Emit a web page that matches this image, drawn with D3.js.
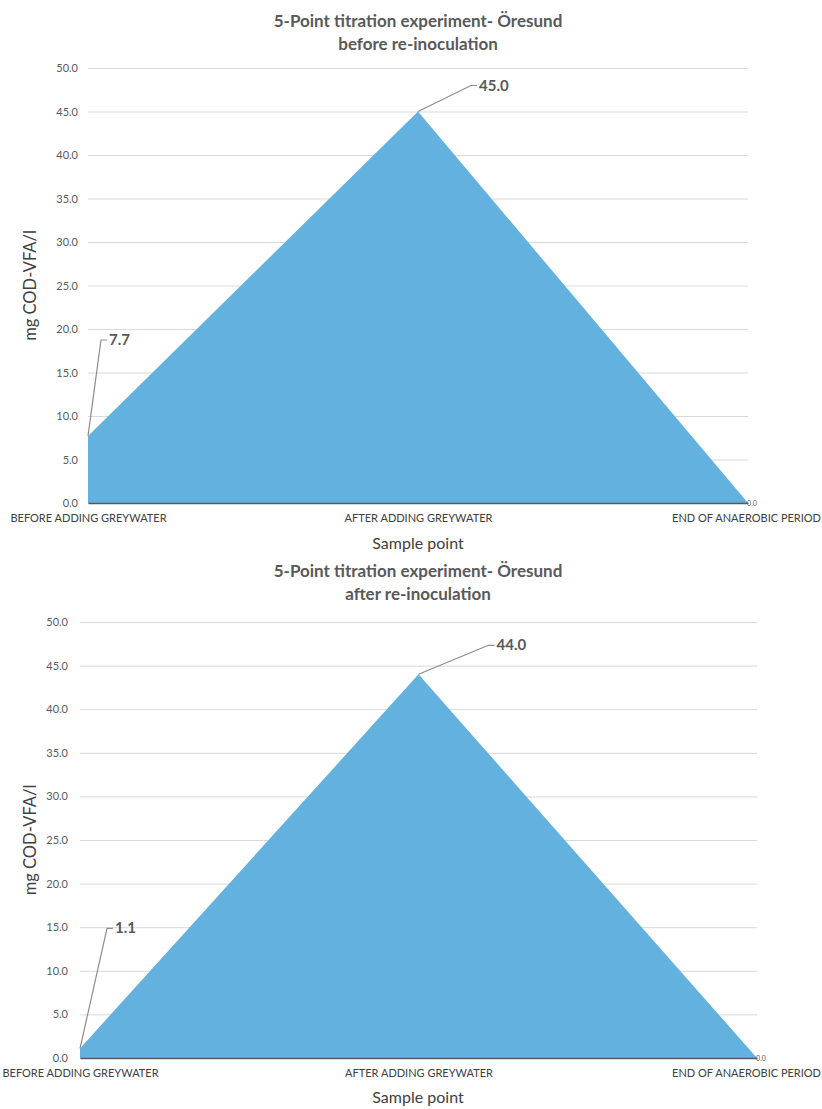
<!DOCTYPE html>
<html>
<head>
<meta charset="utf-8">
<script src="https://cdn.jsdelivr.net/npm/d3@7/dist/d3.min.js"></script>
<style>
  html, body { margin: 0; padding: 0; background: #ffffff; }
  svg { display: block; font-family: Lato, "Open Sans", sans-serif; }
</style>
</head>
<body>
<svg id="chart" width="822" height="1109"></svg>
<script>
// Sample points along the titration run
const categories = ["BEFORE ADDING GREYWATER", "AFTER ADDING GREYWATER", "END OF ANAEROBIC PERIOD"];

// mg COD-VFA/l measured at each sample point
const beforeValues = [7.7, 45.0, 0.0];
const afterValues = [1.1, 44.0, 0.0];

const yTicks = [0, 5, 10, 15, 20, 25, 30, 35, 40, 45, 50];

const titleLine1 = "5-Point titration experiment- Öresund";
const subtitleBefore = "before re-inoculation";
const subtitleAfter = "after re-inoculation";
const xTitle = "Sample point";
const yTitle = "mg COD-VFA/l";

const svg = d3.select("#chart");
const W = 822;

function drawPanel(cfg) {
  const g = svg.append("g");
  const x = d3.scalePoint().domain(categories).range([cfg.left, cfg.right]);
  const y = d3.scaleLinear().domain([0, 50]).range([cfg.bottom, cfg.top]);

  // titles
  g.append("text").attr("x", 418).attr("y", cfg.titleY)
    .attr("text-anchor", "middle").attr("font-size", 17).attr("font-weight", 700)
    .attr("fill", "#595959").text(titleLine1);
  g.append("text").attr("x", 418).attr("y", cfg.titleY + 23)
    .attr("text-anchor", "middle").attr("font-size", 17).attr("font-weight", 700)
    .attr("fill", "#595959").text(cfg.subtitle);

  // horizontal gridlines and value ticks
  const yAxis = d3.axisLeft(y).tickValues(yTicks).tickFormat(d3.format(".1f"))
    .tickSize(-(cfg.right - cfg.left)).tickPadding(cfg.tickPad);
  const ya = g.append("g").attr("transform", `translate(${cfg.left},0)`).call(yAxis);
  ya.select(".domain").remove();
  ya.selectAll(".tick line").attr("stroke", "#d9d9d9").attr("stroke-width", 1);
  ya.selectAll(".tick text").attr("fill", "#595959").attr("font-size", 11)
    .attr("font-family", "Lato, sans-serif");

  // filled area
  const values = cfg.values;
  const area = d3.area()
    .x((d, i) => x(categories[i]))
    .y0(y(0))
    .y1(d => y(d));
  g.append("path").datum(values).attr("d", area).attr("fill", "#63b1de");

  // category axis
  const xAxis = d3.axisBottom(x).tickSize(0).tickPadding(11);
  const xa = g.append("g").attr("transform", `translate(0,${y(0)})`).call(xAxis);
  xa.select(".domain").attr("stroke", "#595959").attr("stroke-width", 1.5);
  xa.selectAll(".tick text").attr("fill", "#404040").attr("font-size", 11)
    .attr("font-family", "Lato, sans-serif");
  // keep edge labels inside the page
  xa.selectAll(".tick").each(function () {
    const t = d3.select(this);
    const tx = +t.attr("transform").match(/translate\(([^,]+)/)[1];
    const txt = t.select("text");
    const w = txt.node().getComputedTextLength();
    if (tx + w / 2 > W - 1) {
      txt.attr("text-anchor", "end").attr("x", W - 1 - tx);
    } else if (tx - w / 2 < 1) {
      txt.attr("text-anchor", "start").attr("x", 1 - tx);
    }
  });

  // axis titles
  g.append("text").attr("x", 418).attr("y", cfg.xTitleY).attr("text-anchor", "middle")
    .attr("font-size", 16).attr("fill", "#404040").text(xTitle);
  g.append("text")
    .attr("transform", `translate(${cfg.yTitleX},${(cfg.top + cfg.bottom) / 2}) rotate(-90)`)
    .attr("text-anchor", "middle").attr("font-size", 16.5).attr("fill", "#404040").text(yTitle);

  // data labels with leader lines
  values.forEach((v, i) => {
    const px = x(categories[i]);
    const py = y(v);
    const off = cfg.labelOffsets[i];
    if (off) {
      const lx = px + off[0], ly = py + off[1];
      g.append("path")
        .attr("d", `M${px},${py} L${lx},${ly} L${lx + 6},${ly}`)
        .attr("fill", "none").attr("stroke", "#8c8c8c").attr("stroke-width", 1.2);
      g.append("text").attr("x", lx + 8).attr("y", ly + 5)
        .attr("font-size", 15).attr("font-weight", 700).attr("fill", "#595959")
        .text(d3.format(".1f")(v));
    } else {
      g.append("text").attr("x", px + 4).attr("y", py + 3)
        .attr("text-anchor", "middle").attr("font-size", 7).attr("fill", "#595959")
        .text(d3.format(".1f")(v));
    }
  });
}

drawPanel({
  values: beforeValues, subtitle: subtitleBefore,
  left: 88, right: 748, top: 68, bottom: 503,
  titleY: 27, xTitleY: 549, yTitleX: 36, tickPad: 10,
  labelOffsets: [[13, -96], [53, -26], null]
});

drawPanel({
  values: afterValues, subtitle: subtitleAfter,
  left: 80, right: 757, top: 622, bottom: 1058,
  titleY: 577, xTitleY: 1103, yTitleX: 36, tickPad: 12,
  labelOffsets: [[27, -120], [70, -29], null]
});
</script>
</body>
</html>
